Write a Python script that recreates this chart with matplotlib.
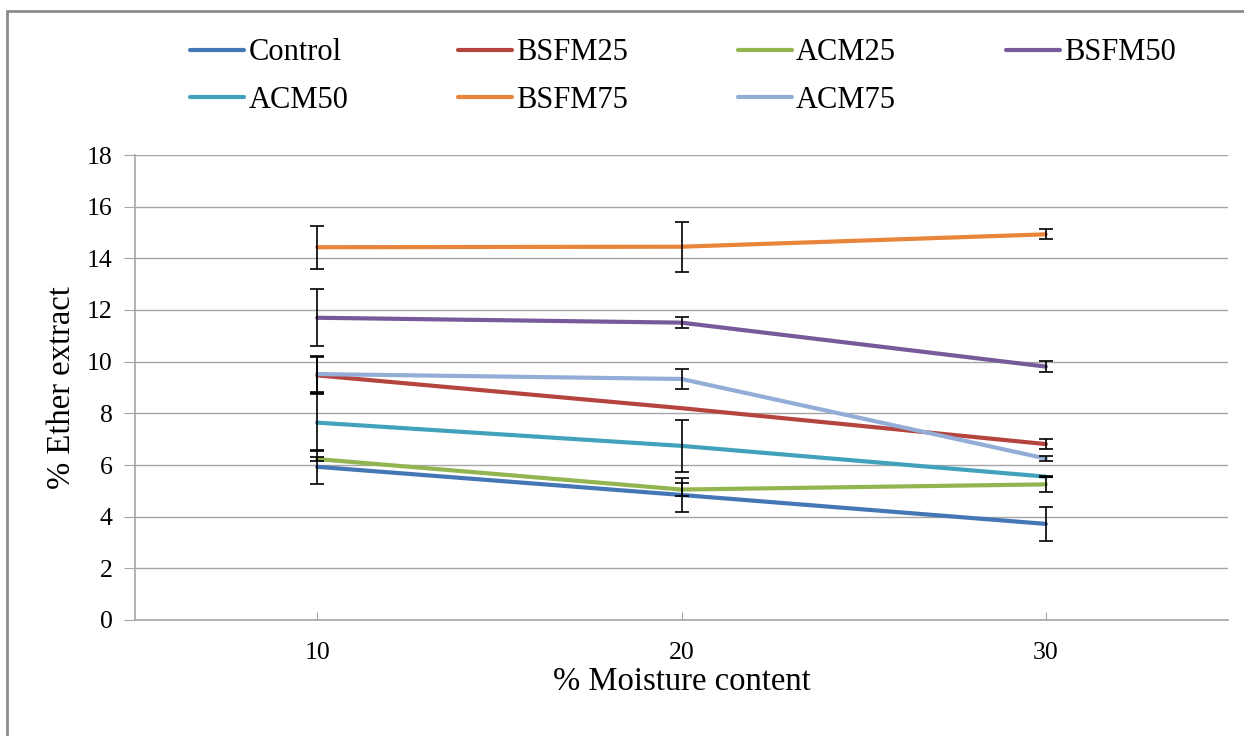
#!/usr/bin/env python3
# -*- coding: utf-8 -*-

"""
plot.py
Ether extract vs moisture content, with error bars per diet
"""

import numpy as np
import matplotlib
matplotlib.use('Agg')
import matplotlib.pyplot as plt
from matplotlib.patches import Rectangle

moisture = ['10', '20', '30']

series_names = ['Control', 'BSFM25', 'ACM25', 'BSFM50', 'ACM50', 'BSFM75', 'ACM75']

control = [5.93, 4.84, 3.72]
bsfm25 = [9.47, 8.20, 6.81]
acm25 = [6.23, 5.05, 5.25]
bsfm50 = [11.70, 11.51, 9.81]
acm50 = [7.64, 6.74, 5.55]
bsfm75 = [14.43, 14.45, 14.93]
acm75 = [9.52, 9.33, 6.25]

control_err = [0.65, 0.66, 0.65]
bsfm25_err = [0.70, np.nan, 0.19]
acm25_err = [0.08, 0.24, 0.30]
bsfm50_err = [1.10, 0.20, 0.20]
acm50_err = [1.10, 1.00, 0.03]
bsfm75_err = [0.84, 0.97, 0.19]
acm75_err = [0.70, 0.37, 0.10]

colors = ['#4576B5', '#B5443F', '#93B550', '#765A9A', '#42A2BC', '#E8853A', '#93ADD6']

FONT = 'Liberation Serif'
GRID = '#A6A6A6'

# legend is filled row by row in the original, matplotlib fills by column
LEGEND_ORDER = [0, 4, 1, 5, 2, 6, 3]


def main():
    plt.rcParams['font.family'] = FONT
    values = [control, bsfm25, acm25, bsfm50, acm50, bsfm75, acm75]
    errors = [control_err, bsfm25_err, acm25_err, bsfm50_err, acm50_err, bsfm75_err, acm75_err]

    fig = plt.figure(figsize=(12.44, 7.36), dpi=100)
    ax = fig.add_axes([135 / 1244, 1 - 620 / 736, (1228 - 135) / 1244, (620 - 155) / 736])

    x = np.arange(len(moisture))
    handles = []
    for name, vals, col in zip(series_names, values, colors):
        h, = ax.plot(x, vals, color=col, lw=3.0, solid_capstyle='round', zorder=3, label=name)
        handles.append(h)
    # error bars sit on top of the lines, like Excel draws them
    for vals, err in zip(values, errors):
        ax.errorbar(x, vals, yerr=err, fmt='none', ecolor='black', elinewidth=1.2,
                    capsize=5, capthick=1.2, zorder=4)

    ax.set_xlim(-0.5, len(moisture) - 0.5)
    ax.set_ylim(0, 18)
    ax.set_yticks(range(0, 19, 2))
    ax.set_xticks(x)
    ax.set_xticklabels(moisture)
    ax.yaxis.grid(True, color=GRID, lw=1.0)
    ax.set_axisbelow(True)

    for side in ['top', 'right']:
        ax.spines[side].set_visible(False)
    for side in ['left', 'bottom']:
        ax.spines[side].set_color(GRID)
        ax.spines[side].set_linewidth(1.2)

    ax.tick_params(axis='y', direction='out', length=8, color=GRID, labelsize=18.5, pad=8)
    ax.tick_params(axis='x', direction='in', length=6, color=GRID, labelsize=18.5, pad=16)

    ax.set_xlabel('% Moisture content', fontsize=23.5, labelpad=2)
    ax.set_ylabel('% Ether extract', fontsize=23.5, labelpad=7)

    fig.legend(handles=[handles[i] for i in LEGEND_ORDER], loc='upper left',
               bbox_to_anchor=(178 / 1244, 1 - 26 / 736),
               ncol=4, frameon=False, fontsize=22, handlelength=1.75, handletextpad=0.15,
               columnspacing=3.6, labelspacing=0.62, borderaxespad=0)

    # outer chart border (left and top edges visible)
    fig.patches.append(Rectangle((7 / 1244, -0.5), 2.0, 1.5 - 11 / 736, transform=fig.transFigure,
                                 fill=False, edgecolor='#8C8C8C', lw=2.0))

    fig.savefig('out.png', dpi=100)


if __name__ == "__main__":
    main()
